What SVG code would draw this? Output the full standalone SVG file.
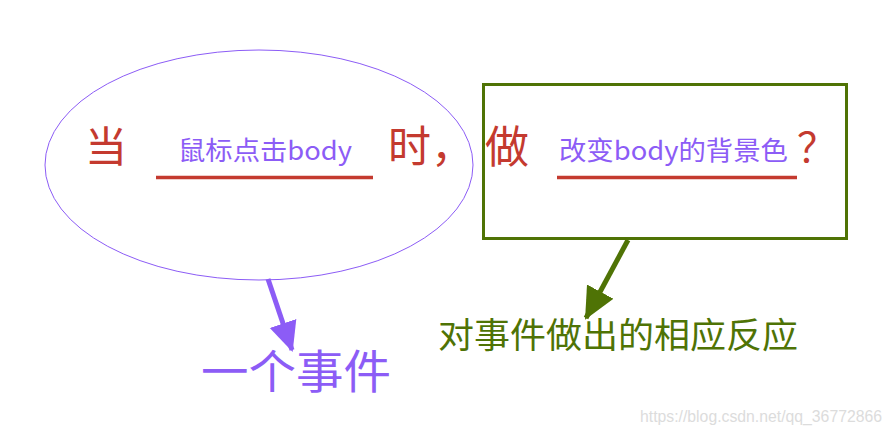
<svg xmlns="http://www.w3.org/2000/svg" width="892" height="435" viewBox="0 0 892 435">
<style>
text{font-family:"Noto Sans CJK SC","Noto Sans",sans-serif;font-weight:400}
.red{fill:#c43a2f}
.pur{fill:#8c5cf6}
.grn{fill:#4f7305}
.ul{stroke:#c43a2f;stroke-width:3.5}
</style>
<defs>
<marker id="ap" markerUnits="userSpaceOnUse" markerWidth="30" markerHeight="30" refX="28" refY="15" orient="auto" viewBox="0 0 30 30"><path d="M0,1 L30,15 L0,29 Z" fill="#8c5cf6"/></marker>
<marker id="ag" markerUnits="userSpaceOnUse" markerWidth="32" markerHeight="32" refX="30" refY="16" orient="auto" viewBox="0 0 32 32"><path d="M0,1 L32,16 L0,31 Z" fill="#4f7305"/></marker>
</defs>
<rect width="892" height="435" fill="#fff"/>
<g id="event-ellipse">
<ellipse cx="259" cy="165" rx="214" ry="115" fill="none" stroke="#8c5cf6" stroke-width="1"/>
<text x="85" y="162" font-size="42" class="red">当</text>
<text x="178" y="160" font-size="26" class="pur" textLength="174" lengthAdjust="spacingAndGlyphs">鼠标点击body</text>
<line x1="156" y1="177.5" x2="373" y2="177.5" class="ul"/>
<text x="388" y="162" font-size="43" class="red">时，</text>
</g>
<g id="action-box">
<rect x="483.5" y="84.5" width="363" height="154" fill="none" stroke="#4f7305" stroke-width="3"/>
<text x="485" y="163" font-size="44" class="red">做</text>
<text x="559" y="160" font-size="26" class="pur" textLength="229" lengthAdjust="spacingAndGlyphs">改变body的背景色</text>
<line x1="557" y1="177.5" x2="797" y2="177.5" class="ul"/>
<text x="797" y="162" font-size="40" class="red">？</text>
</g>
<g id="event-label">
<text x="201" y="388" font-size="46" class="pur" textLength="190" lengthAdjust="spacingAndGlyphs">一个事件</text>
</g>
<g id="reaction-label">
<text x="438" y="348" font-size="35" class="grn" textLength="360" lengthAdjust="spacingAndGlyphs">对事件做出的相应反应</text>
</g>
<g id="connectors">
<line x1="268" y1="279" x2="292" y2="350" stroke="#8c5cf6" stroke-width="5" marker-end="url(#ap)"/>
<line x1="628" y1="240" x2="586" y2="318" stroke="#4f7305" stroke-width="5" marker-end="url(#ag)"/>
</g>
<text x="640" y="422" font-size="16" fill="#dcdcdc" style="font-family:'Liberation Sans',Arial,sans-serif" textLength="242" lengthAdjust="spacingAndGlyphs">https://blog.csdn.net/qq_36772866</text>
</svg>
